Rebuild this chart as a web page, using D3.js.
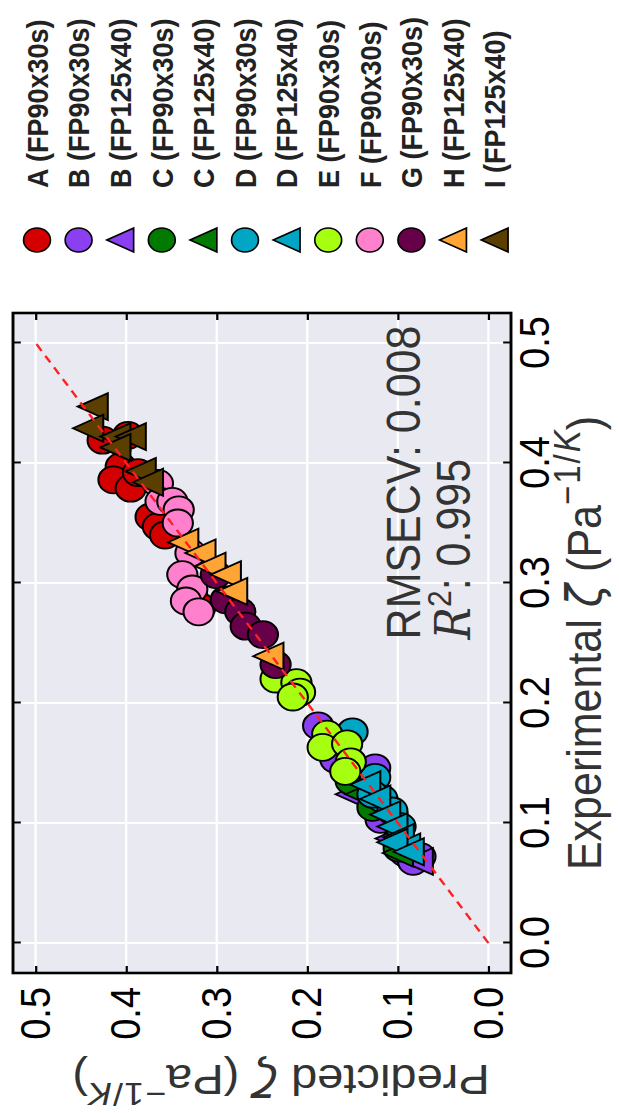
<!DOCTYPE html>
<html><head><meta charset="utf-8">
<script src="https://cdn.jsdelivr.net/npm/d3@7"></script>
<style>html,body{margin:0;padding:0;background:#fff} svg{display:block}</style>
</head><body>
<svg id="chart" width="619" height="1113"></svg>
<script>
// ---------- data (Experimental ζ, Predicted ζ) ----------
const seriesNames = ["A (FP90x30s)","B (FP90x30s)","B (FP125x40)","C (FP90x30s)","C (FP125x40)","D (FP90x30s)","D (FP125x40)","E (FP90x30s)","F (FP90x30s)","G (FP90x30s)","H (FP125x40)","I (FP125x40)"];
const seriesShapes = ["circle","circle","triangle","circle","triangle","circle","triangle","circle","circle","circle","triangle","triangle"];

const expA  = [0.419,0.423,0.397,0.386,0.379,0.392,0.355,0.347,0.340,0.289,0.280];
const predA = [0.426,0.398,0.406,0.414,0.395,0.387,0.373,0.365,0.357,0.327,0.318];
const expB90  = [0.181,0.153,0.146,0.128,0.103,0.085,0.075,0.072,0.068];
const predB90 = [0.188,0.169,0.125,0.141,0.119,0.100,0.092,0.075,0.083];
const expB125  = [0.124,0.087,0.068];
const predB125 = [0.152,0.108,0.078];
const expC90  = [0.135,0.113,0.079];
const predC90 = [0.152,0.128,0.099];
const expC125  = [0.124,0.075];
const predC125 = [0.141,0.100];
const expD90  = [0.176,0.138,0.120,0.110,0.097,0.124];
const predD90 = [0.150,0.125,0.117,0.106,0.097,0.128];
const expD125  = [0.132,0.120,0.107,0.097,0.088,0.080,0.084,0.076];
const predD125 = [0.136,0.125,0.114,0.106,0.099,0.092,0.106,0.088];
const expE  = [0.220,0.217,0.209,0.205,0.174,0.163,0.166,0.151,0.143];
const predE = [0.235,0.212,0.208,0.216,0.178,0.183,0.156,0.152,0.158];
const expF  = [0.383,0.368,0.368,0.361,0.350,0.325,0.307,0.295,0.285,0.276];
const predF = [0.365,0.362,0.349,0.342,0.343,0.329,0.338,0.327,0.334,0.320];
const expG  = [0.307,0.286,0.276,0.264,0.257,0.232];
const predG = [0.301,0.290,0.274,0.268,0.249,0.235];
const expH  = [0.334,0.325,0.314,0.307,0.293,0.239];
const predH = [0.337,0.318,0.307,0.290,0.283,0.243];
const expI  = [0.447,0.429,0.422,0.422,0.413,0.393,0.384];
const predI = [0.437,0.442,0.412,0.395,0.412,0.384,0.376];

const expValues  = [expA,expB90,expB125,expC90,expC125,expD90,expD125,expE,expF,expG,expH,expI];
const predValues = [predA,predB90,predB125,predC90,predC125,predD90,predD125,predE,predF,predG,predH,predI];

const xTicks = [0.0,0.1,0.2,0.3,0.4,0.5];
const yTicks = [0.0,0.1,0.2,0.3,0.4,0.5];
const statRMSE = "RMSECV: 0.008";
const statR2 = "0.995";

// ---------- styles ----------
const colors = ["#d40000","#8a3ff0","#8a3ff0","#007a00","#007a00","#00a6c4","#00a6c4","#a6ff10","#ff80cc","#660048","#ffa535","#5a3f00"];
const S = 1.12;            // horizontal stretch of the final picture
const FONT = "'Liberation Sans', Arial, sans-serif";

const svg = d3.select("#chart");
// whole figure is drawn un-rotated, then turned 90° counter-clockwise
const g = svg.append("g").attr("transform", `matrix(0,-1,${S},0,0,1113)`);

const L = 140, R = 800, T = 13 / S, B = 511 / S;
const x = d3.scaleLinear().domain([-0.025, 0.525]).range([L, R]);
const y = d3.scaleLinear().domain([-0.025, 0.525]).range([B, T]);

g.append("rect").attr("x", L).attr("y", T).attr("width", R - L).attr("height", B - T).attr("fill", "#e8e9f1");

// grid
g.append("g").selectAll("line").data(xTicks).join("line")
  .attr("x1", d => x(d)).attr("x2", d => x(d)).attr("y1", T).attr("y2", B)
  .attr("stroke", "#ffffff").attr("stroke-width", 2);
g.append("g").selectAll("line").data(yTicks).join("line")
  .attr("y1", d => y(d)).attr("y2", d => y(d)).attr("x1", L).attr("x2", R)
  .attr("stroke", "#ffffff").attr("stroke-width", 2);

// markers
const tri = r => `M0,${-r}L${r},${r}L${-r},${r}Z`;
const R0 = 12, RP = 13.5;
seriesNames.forEach((name, i) => {
  const pts = expValues[i].map((e, j) => [e, predValues[i][j]]);
  const grp = g.append("g");
  if (seriesShapes[i] === "circle") {
    grp.selectAll("circle").data(pts).join("circle")
      .attr("cx", d => x(d[0])).attr("cy", d => y(d[1])).attr("r", RP)
      .attr("fill", colors[i]).attr("stroke", "#000").attr("stroke-width", 1.8);
  } else {
    grp.selectAll("path").data(pts).join("path")
      .attr("transform", d => `translate(${x(d[0])},${y(d[1])})`).attr("d", tri(RP))
      .attr("fill", colors[i]).attr("stroke", "#000").attr("stroke-width", 1.8);
  }
});

// identity line
g.append("line").attr("x1", x(0)).attr("y1", y(0)).attr("x2", x(0.5)).attr("y2", y(0.5))
  .attr("stroke", "#ff2020").attr("stroke-width", 2.2).attr("stroke-dasharray", "8,6");

// axes (ticks inside)
const fmt = d3.format(".1f");
const ax = g.append("g").attr("transform", `translate(0,${B})`)
  .call(d3.axisBottom(x).tickValues(xTicks).tickFormat(fmt).tickSizeInner(-7).tickSizeOuter(0).tickPadding(7));
const ay = g.append("g").attr("transform", `translate(${L},0)`)
  .call(d3.axisLeft(y).tickValues(yTicks).tickFormat(fmt).tickSizeInner(-7).tickSizeOuter(0).tickPadding(14));
g.append("g").attr("transform", `translate(0,${T})`)
  .call(d3.axisTop(x).tickValues(xTicks).tickFormat("").tickSizeInner(-7).tickSizeOuter(0));
g.append("g").attr("transform", `translate(${R},0)`)
  .call(d3.axisRight(y).tickValues(yTicks).tickFormat("").tickSizeInner(-7).tickSizeOuter(0));
g.selectAll(".domain").remove();
g.selectAll(".tick line").attr("stroke", "#000").attr("stroke-width", 2);
[ax, ay].forEach(a => a.selectAll("text").attr("font-family", FONT).attr("font-size", 38).attr("fill", "#000"));

// frame
g.append("rect").attr("x", L).attr("y", T).attr("width", R - L).attr("height", B - T)
  .attr("fill", "none").attr("stroke", "#000").attr("stroke-width", 2.6);

// stats text
g.append("text").attr("x", x(0.253)).attr("y", 375).attr("font-family", FONT).attr("font-size", 43).attr("fill", "#333")
  .text(statRMSE);
const r2 = g.append("text").attr("x", x(0.253)).attr("y", 420).attr("font-family", FONT).attr("font-size", 43).attr("fill", "#333");
r2.append("tspan").attr("font-family", "'DejaVu Serif', serif").attr("font-style", "italic").text("R");
r2.append("tspan").attr("font-size", 30).attr("dy", -17).text("2");
r2.append("tspan").attr("dy", 17).text(": " + statR2);

// axis labels
const xl = g.append("text").attr("x", (L + R) / 2).attr("y", 537).attr("text-anchor", "middle")
  .attr("font-family", FONT).attr("font-size", 43).attr("fill", "#333");
xl.append("tspan").text("Experimental ");
xl.append("tspan").attr("font-style", "italic").attr("font-family", "'DejaVu Sans', sans-serif").text("ζ");
xl.append("tspan").text(" (Pa");
xl.append("tspan").attr("font-size", 33).attr("dy", -19).attr("letter-spacing", 2).text("−1/");
xl.append("tspan").attr("font-size", 33).attr("font-style", "italic").text("K");
xl.append("tspan").attr("dy", 19).text(")");

const yl = g.append("text").attr("transform", `translate(48,${(T + B) / 2 + 17}) rotate(-90)`).attr("text-anchor", "middle")
  .attr("font-family", FONT).attr("font-size", 42).attr("fill", "#333");
yl.append("tspan").text("Predicted ");
yl.append("tspan").attr("font-style", "italic").attr("font-family", "'DejaVu Sans', sans-serif").text("ζ");
yl.append("tspan").text(" (Pa");
yl.append("tspan").attr("font-size", 32).attr("dy", -18).attr("letter-spacing", 1).text("−1/");
yl.append("tspan").attr("font-size", 32).attr("font-style", "italic").text("K");
yl.append("tspan").attr("dy", 18).text(")");

// legend
const lg = g.append("g");
seriesNames.forEach((name, i) => {
  const cy = (37 + 41.6 * i) / S;
  if (seriesShapes[i] === "circle") {
    lg.append("circle").attr("cx", 873).attr("cy", cy).attr("r", R0)
      .attr("fill", colors[i]).attr("stroke", "#000").attr("stroke-width", 1.5);
  } else {
    lg.append("path").attr("transform", `translate(873,${cy})`).attr("d", tri(R0))
      .attr("fill", colors[i]).attr("stroke", "#000").attr("stroke-width", 1.5);
  }
  lg.append("text").attr("x", 925).attr("y", cy).attr("dy", "0.36em")
    .attr("font-family", FONT).attr("font-weight", "bold").attr("font-size", 27).attr("fill", "#222")
    .text(name);
});
</script>
</body></html>
